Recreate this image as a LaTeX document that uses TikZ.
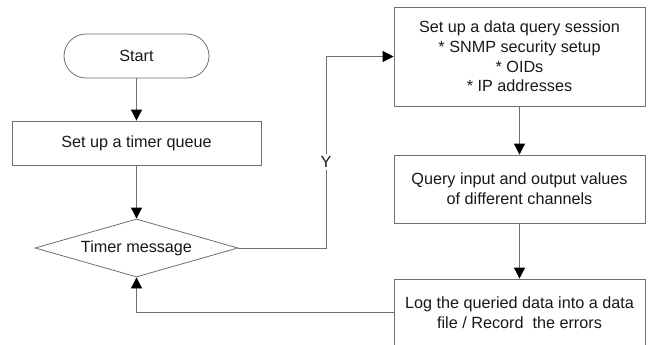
\documentclass[tikz,border=0pt]{standalone}
\usepackage{fontspec}
\setmainfont{Liberation Sans}
\usetikzlibrary{shapes.geometric,arrows.meta}
\definecolor{edge}{RGB}{112,112,112}
\definecolor{txt}{RGB}{25,25,25}
\begin{document}
\begin{tikzpicture}[x=1pt,y=-1pt,
  every node/.style={font=\fontsize{16.2}{19.7}\selectfont, text=txt, align=center},
  box/.style={draw=edge, line width=0.8pt, rectangle, inner sep=0pt},
  flow/.style={draw=edge, line width=0.8pt, -{Triangle[length=11pt,width=11pt,fill=black,color=black]}},
  plain/.style={draw=edge, line width=0.8pt}]
\useasboundingbox[fill=white] (0,0) rectangle (648,345);
\node[box, rounded corners=22pt, minimum width=145pt, minimum height=44pt] (start) at (136.5,56) {Start};
\node[box, minimum width=249pt, minimum height=44pt] (queue) at (136.5,143) {Set up a timer queue};
\node[draw=edge, line width=0.8pt, diamond, aspect=3.5, inner sep=0pt, minimum width=203pt, minimum height=58pt] (dec) at (136.5,248) {Timer message};
\node[box, minimum width=251pt, minimum height=99pt] (sess) at (519.5,56.5) {Set up a data query session\\* SNMP security setup\\* OIDs\\* IP addresses};
\node[box, minimum width=251pt, minimum height=68pt] (query) at (519.5,189) {Query input and output values\\of different channels};
\node[box, minimum width=251pt, minimum height=67pt] (log) at (519.5,312.5) {Log the queried data into a data\\file / Record\ \ the errors};
\coordinate (yb) at (326,248);
\coordinate (yt) at (326,56.5);
\coordinate (lb) at (136.5,312.5);
\draw[flow] (start) -- (queue);
\draw[flow] (queue) -- (dec);
\draw[flow] (dec.east) -- (yb) -- (yt) -- (sess.west);
\node[fill=white, inner sep=2pt] (ylab) at (326,162) {Y};
\draw[flow] (sess) -- (query);
\draw[flow] (query) -- (log);
\draw[flow] (log.west) -- (lb) -- (dec.south);
\end{tikzpicture}
\end{document}
